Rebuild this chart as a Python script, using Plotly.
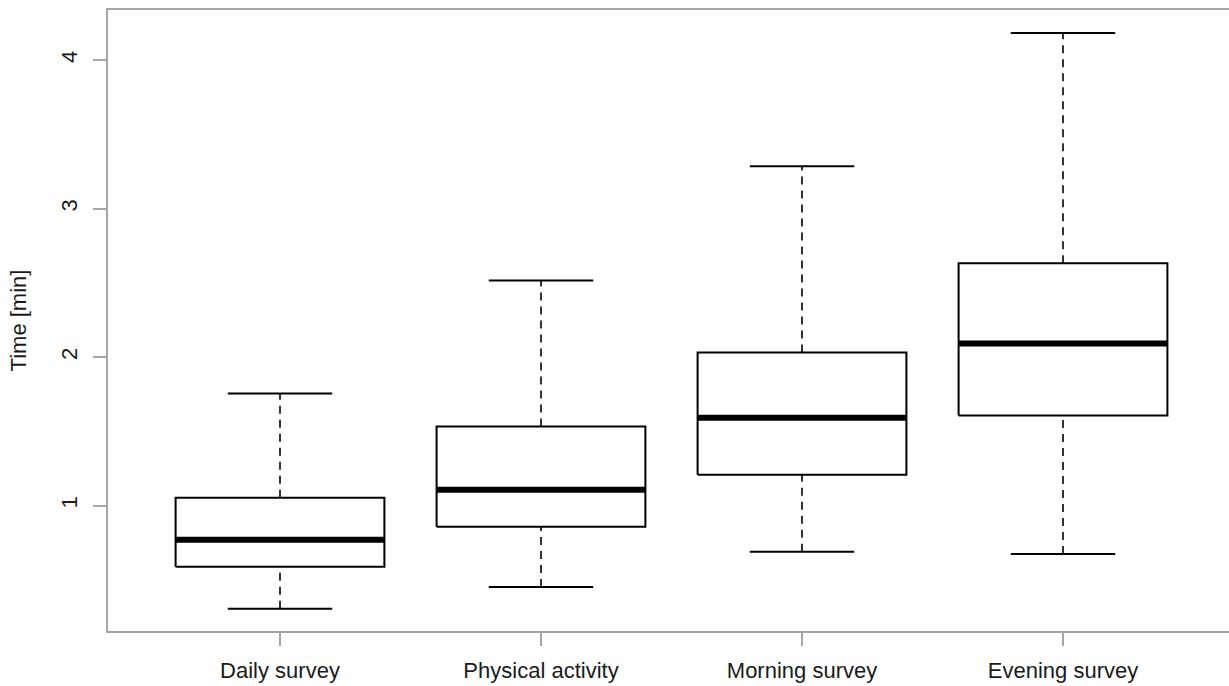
import plotly.graph_objects as go

categories = ["Daily survey", "Physical activity", "Morning survey", "Evening survey"]
lower_whisker = [0.306, 0.454, 0.690, 0.676]
q1 = [0.589, 0.858, 1.209, 1.607]
median = [0.771, 1.108, 1.593, 2.092]
q3 = [1.054, 1.533, 2.031, 2.632]
upper_whisker = [1.755, 2.517, 3.285, 4.182]
y_ticks = [1, 2, 3, 4]

BOX_HALF = 0.4
CAP_HALF = 0.2
FONT = "Liberation Sans, Arial, sans-serif"
AXIS_GRAY = "#a6a6a6"

fig = go.Figure()
for i, name in enumerate(categories):
    x = i + 1
    # whiskers (dashed)
    fig.add_trace(go.Scatter(x=[x, x], y=[q3[i], upper_whisker[i]], mode="lines",
                             line=dict(color="black", width=1.6, dash="8px,6px"),
                             showlegend=False, hoverinfo="skip"))
    fig.add_trace(go.Scatter(x=[x, x], y=[lower_whisker[i], q1[i]], mode="lines",
                             line=dict(color="black", width=1.6, dash="8px,6px"),
                             showlegend=False, hoverinfo="skip"))
    # caps
    for v in (upper_whisker[i], lower_whisker[i]):
        fig.add_trace(go.Scatter(x=[x - CAP_HALF, x + CAP_HALF], y=[v, v], mode="lines",
                                 line=dict(color="black", width=2),
                                 showlegend=False, hoverinfo="skip"))
    # box
    fig.add_trace(go.Scatter(x=[x - BOX_HALF, x + BOX_HALF, x + BOX_HALF, x - BOX_HALF, x - BOX_HALF],
                             y=[q1[i], q1[i], q3[i], q3[i], q1[i]], mode="lines",
                             line=dict(color="black", width=2),
                             showlegend=False, name=name))
    # median
    fig.add_trace(go.Scatter(x=[x - BOX_HALF, x + BOX_HALF], y=[median[i], median[i]], mode="lines",
                             line=dict(color="black", width=6),
                             showlegend=False, hoverinfo="skip"))

fig.update_layout(
    width=1229, height=686,
    margin=dict(l=108, r=0, t=10, b=55),
    plot_bgcolor="white", paper_bgcolor="white",
    font=dict(family=FONT, size=22, color="#1a1a1a"),
    showlegend=False,
)
fig.update_xaxes(
    range=[0.341, 4.636], tickvals=[1, 2, 3, 4], ticktext=categories,
    showgrid=False, zeroline=False, automargin=False,
    showline=True, linecolor=AXIS_GRAY, linewidth=1.5, mirror=True,
    ticks="outside", ticklen=13, tickcolor=AXIS_GRAY, tickwidth=1.5,
    ticklabelstandoff=6, tickfont=dict(size=22),
)
fig.update_yaxes(
    range=[0.157, 4.337], tickvals=y_ticks, ticktext=[str(t) for t in y_ticks],
    tickangle=-90, automargin=False,
    showgrid=False, zeroline=False,
    showline=True, linecolor=AXIS_GRAY, linewidth=1.5,
    ticks="outside", ticklen=13, tickcolor=AXIS_GRAY, tickwidth=1.5,
    ticklabelstandoff=7, tickfont=dict(size=22),
    title=dict(text="Time [min]", standoff=25, font=dict(size=22)),
)
fig.write_html(
    "out.html",
    config={"displayModeBar": False},
    post_script="document.body.style.margin='0';document.documentElement.style.overflow='hidden';",
)
